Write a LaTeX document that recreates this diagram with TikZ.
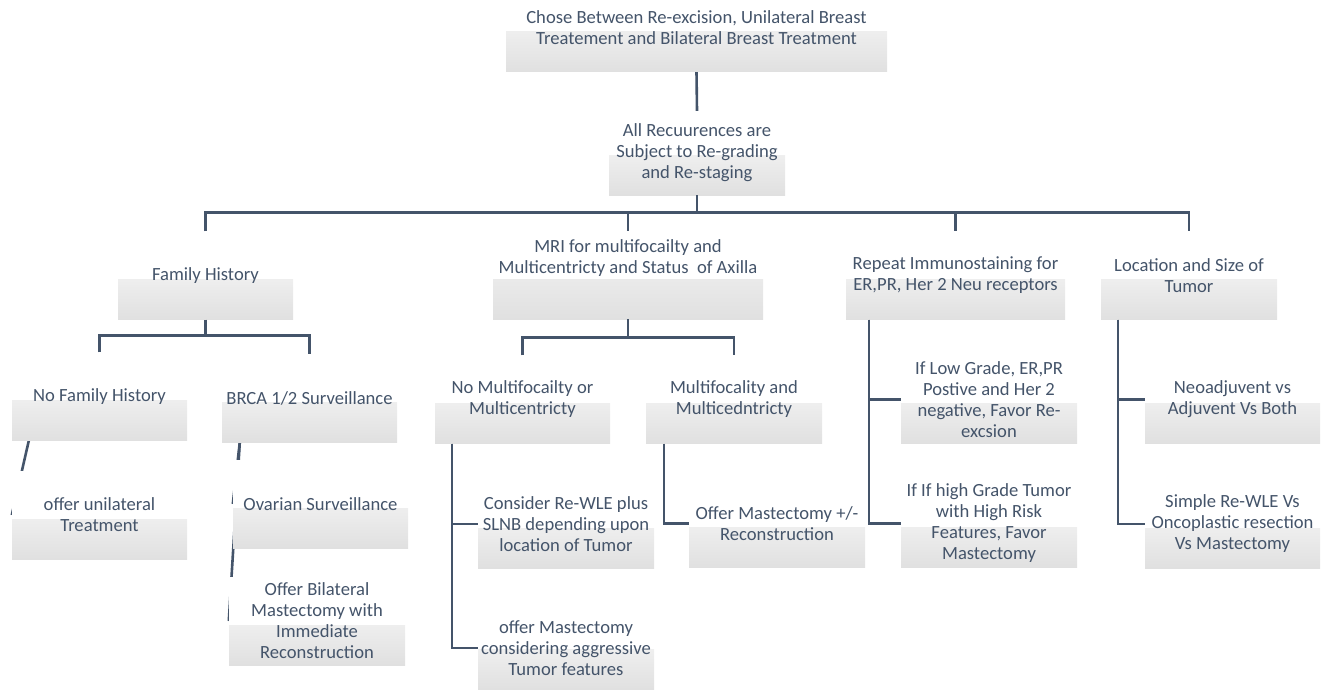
\documentclass[tikz,border=0pt]{standalone}
\usepackage{fontspec}
\setmainfont{Carlito}
\usetikzlibrary{backgrounds}
\definecolor{slate}{HTML}{44546A}
\definecolor{boxgray}{RGB}{224,224,224}
\begin{document}
\begin{tikzpicture}[x=1pt, y=-1pt,
        box/.style = {rectangle,
            minimum width=176pt,
            minimum height=88pt,
            inner sep=0pt,
            fill=white,
            align=center,
            text=slate,
            font=\fontsize{18.6}{21}\selectfont,
            path picture={\shade[top color=white, bottom color=boxgray]
                (path picture bounding box.south west) rectangle
                ([yshift=40pt]path picture bounding box.south east);}},
        link/.style = {draw=slate, line width=2.6pt}]

        \useasboundingbox (0,0) rectangle (1322,690);

        % Top of the tree
        \node[box, minimum width=381pt, minimum height=89pt] (choice) at (696.5,27.5)
            {Chose Between Re-excision, Unilateral Breast\\Treatement and Bilateral Breast Treatment};
        \node[box, minimum height=84pt] (regrade) at (697,153)
            {All Recuurences are\\Subject to Re-grading\\and Re-staging};

        % Second level
        \node[box, minimum width=175pt] (family) at (205.5,275.5) {Family History};
        \node[box, minimum width=270pt, minimum height=121pt] (mri) at (628,258.5)
            {MRI for multifocailty and\\Multicentricty and Status\ \ of Axilla};
        \node[box, minimum width=219pt] (immuno) at (955.5,275.5)
            {Repeat Immunostaining for\\ER,PR, Her 2 Neu receptors};
        \node[box] (site) at (1189,275.5) {Location and Size of\\Tumor};

        % Family history branch
        \node[box, minimum width=175pt] (nofamily) at (99.5,396.5) {No Family History};
        \node[box, minimum width=175pt] (brca) at (309.5,398) {BRCA 1/2 Surveillance};
        \node[box, minimum width=175pt] (unilat) at (99.5,515) {offer unilateral\\Treatment};
        \node[box, minimum width=175pt] (ovarian) at (320.5,504) {Ovarian Surveillance};
        \node[box] (bilat) at (317,621)
            {Offer Bilateral\\Mastectomy with\\Immediate\\Reconstruction};

        % MRI branch
        \node[box, minimum width=175pt] (nomulti) at (522.5,399.5)
            {No Multifocailty or\\Multicentricty};
        \node[box] (multi) at (734,399.5) {Multifocality and\\Multicedntricty};
        \node[box] (rewle) at (566,524)
            {Consider Re-WLE plus\\SLNB depending upon\\location of Tumor};
        \node[box, minimum height=82pt] (mastagg) at (566,648)
            {offer Mastectomy\\considering aggressive\\Tumor features};
        \node[box] (mastrec) at (777,523.5) {Offer Mastectomy +/-\\Reconstruction};

        % Immunostaining branch
        \node[box] (lowgrade) at (989,399.5)
            {If Low Grade, ER,PR\\Postive and Her 2\\negative, Favor Re-\\excsion};
        \node[box] (highgrade) at (989,523.5)
            {If If high Grade Tumor\\with High Risk\\Features, Favor\\Mastectomy};

        % Location branch
        \node[box, minimum width=175pt] (neoadj) at (1232.5,399.5)
            {Neoadjuvent vs\\Adjuvent Vs Both};
        \node[box, minimum width=175pt] (resect) at (1232.5,524)
            {Simple Re-WLE Vs\\Oncoplastic resection\\Vs Mastectomy};

        % Connectors hidden behind the boxes
        \begin{scope}[on background layer]
            \draw[link] ([xshift=17pt]nofamily.south west) -- (unilat.west);
            \draw[link] ([xshift=18pt]brca.south west) -- (ovarian.west);
            \draw[link] ([xshift=18pt]brca.south west) -- (bilat.west);
        \end{scope}

        % Connectors
        \draw[link] (choice.south) -- (regrade.north);
        \draw[link] (regrade.south) -- ++(0,17) coordinate (bus1);
        \draw[link] (family.north) |- (bus1) -| (site.north);
        \draw[link] (bus1 -| mri.north) -- (mri.north |- family.north);
        \draw[link] (bus1 -| immuno.north) -- (immuno.north);

        \draw[link] (family.south) -- ++(0,16) coordinate (bus2);
        \draw[link] (nofamily.north) |- (bus2) -| (brca.north);

        \draw[link] (mri.south) -- ++(0,18) coordinate (bus3);
        \draw[link] (nomulti.north) |- (bus3) -| (multi.north);

        \draw[link] ([xshift=17pt]nomulti.south west) |- (rewle.west);
        \draw[link] ([xshift=17pt]nomulti.south west) |- (mastagg.west);
        \draw[link] ([xshift=18pt]multi.south west) |- (mastrec.west);

        \draw[link] ([xshift=23pt]immuno.south west) |- (lowgrade.west);
        \draw[link] ([xshift=23pt]immuno.south west) |- (highgrade.west);

        \draw[link] ([xshift=17pt]site.south west) |- (neoadj.west);
        \draw[link] ([xshift=17pt]site.south west) |- (resect.west);

    \end{tikzpicture}
\end{document}
